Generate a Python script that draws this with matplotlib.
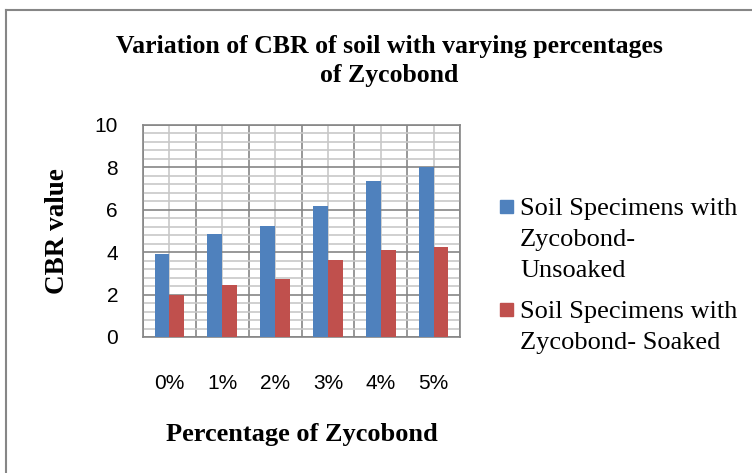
import numpy as np
import matplotlib
matplotlib.use("Agg")
import matplotlib.pyplot as plt
from matplotlib.patches import Rectangle
from matplotlib.lines import Line2D
from matplotlib.ticker import MultipleLocator

# Data
categories = ["0%", "1%", "2%", "3%", "4%", "5%"]
unsoaked = [3.9, 4.85, 5.25, 6.2, 7.35, 8.0]
soaked = [2.0, 2.45, 2.75, 3.65, 4.1, 4.25]
series_names = ["Soil Specimens with\nZycobond-\nUnsoaked", "Soil Specimens with\nZycobond- Soaked"]

blue = "#4f81bd"
red = "#c0504d"
W, H = 752, 473

fig = plt.figure(figsize=(W / 100, H / 100), dpi=100)
ax = fig.add_axes([143 / W, 1 - 337 / H, 317 / W, 212 / H])

x = np.arange(len(categories))
w = 0.28
b1 = ax.bar(x - w / 2, unsoaked, w, color=blue, zorder=3)
b2 = ax.bar(x + w / 2, soaked, w, color=red, zorder=3)

ax.set_xlim(-0.5, len(categories) - 0.5)
ax.set_ylim(0, 10)
ax.yaxis.set_major_locator(MultipleLocator(2))
ax.yaxis.set_minor_locator(MultipleLocator(0.4))
ax.set_xticks(x)
ax.set_xticklabels(categories)
ax.set_xticks(np.arange(-0.5, len(categories), 1), minor=True)
ax.grid(which="major", axis="y", color="#868686", lw=1.2, zorder=0)
ax.grid(which="minor", axis="y", color="#c8c8c8", lw=1.2, zorder=0)
ax.grid(which="major", axis="x", color="#c8c8c8", lw=1.2, zorder=0)
ax.grid(which="minor", axis="x", color="#868686", lw=1.2, zorder=0)
ax.tick_params(which="both", length=0)
ax.tick_params(axis="x", pad=26.5)
ax.tick_params(axis="y", pad=18)
for s in ax.spines.values():
    s.set_color("#868686")
    s.set_linewidth(1.2)

for lab in ax.get_xticklabels() + ax.get_yticklabels():
    lab.set_fontfamily("Liberation Sans")
    lab.set_fontsize(15)

ax.set_ylabel("CBR value", fontfamily="Liberation Serif", fontweight="bold",
              fontsize=19.5, labelpad=18)
ax.set_xlabel("Percentage of Zycobond", fontfamily="Liberation Serif",
              fontweight="bold", fontsize=19, labelpad=22)

fig.text(0.518, 1 - 61 / H, "Variation of CBR of soil with varying percentages\nof Zycobond",
         ha="center", va="center", fontfamily="Liberation Serif",
         fontweight="bold", fontsize=18.5, linespacing=1.3)

# legend drawn by hand: square next to the first line of each label
leg_items = [(b1.patches[0].get_facecolor(), series_names[0], 215),
             (b2.patches[0].get_facecolor(), series_names[1], 318)]
for color, name, base in leg_items:
    fig.patches.append(Rectangle((500 / W, 1 - (base - 2) / H), 13 / W, 13 / H,
                                 transform=fig.transFigure, color=color))
    for i, line in enumerate(name.split("\n")):
        fig.text(520 / W, 1 - (base + 31 * i) / H, line, ha="left", va="baseline",
                 fontfamily="Liberation Serif", fontsize=19)

# outer frame (only top and left visible)
fig.lines.append(Line2D([6 / W, 6 / W], [0, 1 - 10 / H], transform=fig.transFigure,
                        color="#868686", lw=1.5))
fig.lines.append(Line2D([6 / W, 1], [1 - 10 / H, 1 - 10 / H], transform=fig.transFigure,
                        color="#868686", lw=1.5))

fig.savefig("out.png", dpi=100)
